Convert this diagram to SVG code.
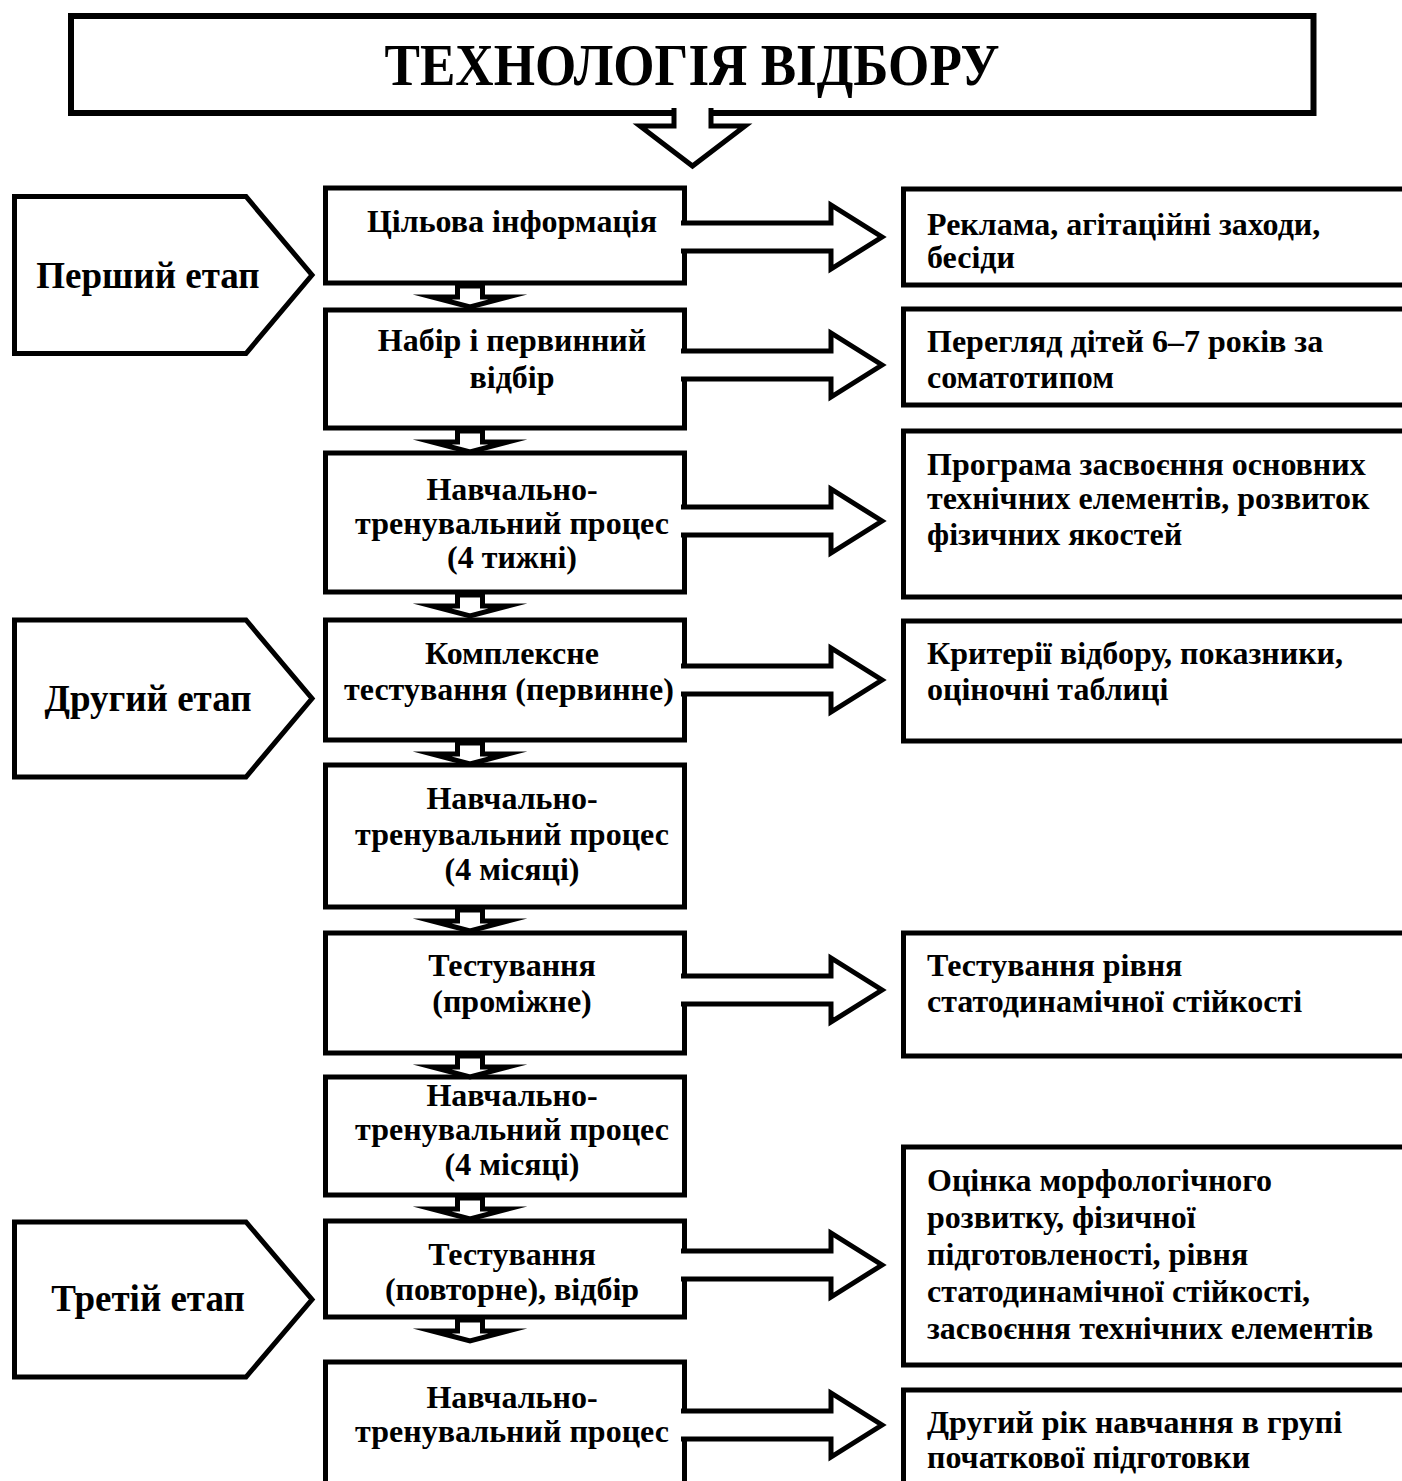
<svg xmlns="http://www.w3.org/2000/svg" xmlns:xlink="http://www.w3.org/1999/xlink" width="1402" height="1481" viewBox="0 0 1402 1481">
<style>
.box{fill:#fff;stroke:#000;stroke-width:5}
.arr{fill:#fff;stroke:#000;stroke-width:5;stroke-linejoin:miter;stroke-miterlimit:10}
.t{font-family:"Liberation Serif","Times New Roman",serif;font-weight:bold;font-size:32px;fill:#000}
.c{text-anchor:middle}
.s{font-size:37px}
.title{font-size:60px}
</style>
<defs>
<path id="ra" class="arr" d="M681,-14 H831 V-32 L882,0 L831,32 V14 H681"/>
<path id="da" class="arr" d="M457.5,3 H482.5 V14 H508 L470,24 L432,14 H457.5 Z"/>
</defs>
<rect width="1402" height="1481" fill="#fff"/>

<g id="title">
<rect x="71" y="16" width="1242.5" height="97" fill="#fff" stroke="#000" stroke-width="6"/>
<path class="arr" stroke-width="4.5" d="M674,108 V126 H640 L692.5,166 L745,126 H711 V108"/>
<text class="t c title" x="692" y="85" textLength="615" lengthAdjust="spacingAndGlyphs">ТЕХНОЛОГІЯ ВІДБОРУ</text>
</g>

<g id="stage1"><polygon class="box" points="14.5,196.5 246,196.5 312,275 246,353.5 14.5,353.5"/><text class="t c s" x="148" y="288">Перший етап</text></g>
<g id="stage2"><polygon class="box" points="14.5,620 246,620 312,698.5 246,777 14.5,777"/><text class="t c s" x="148" y="711">Другий етап</text></g>
<g id="stage3"><polygon class="box" points="14.5,1222 246,1222 312,1299.5 246,1377 14.5,1377"/><text class="t c s" x="148" y="1311">Третій етап</text></g>

<g id="b1"><rect class="box" x="325.5" y="188" width="359" height="95"/><text class="t c" x="512" y="232">Цільова інформація</text></g>
<g id="b2"><rect class="box" x="325.5" y="310" width="359" height="118"/><text class="t c" x="512" y="351">Набір і первинний</text><text class="t c" x="512" y="388">відбір</text></g>
<g id="b3"><rect class="box" x="325.5" y="453" width="359" height="139"/><text class="t c" x="512" y="500">Навчально-</text><text class="t c" x="512" y="534">тренувальний процес</text><text class="t c" x="512" y="568">(4 тижні)</text></g>
<g id="b4"><rect class="box" x="325.5" y="620" width="359" height="120"/><text class="t c" x="512" y="664">Комплексне</text><text class="t c" x="509" y="700">тестування (первинне)</text></g>
<g id="b5"><rect class="box" x="325.5" y="765" width="359" height="142"/><text class="t c" x="512" y="809">Навчально-</text><text class="t c" x="512" y="845">тренувальний процес</text><text class="t c" x="512" y="880">(4 місяці)</text></g>
<g id="b6"><rect class="box" x="325.5" y="933" width="359" height="120"/><text class="t c" x="512" y="976">Тестування</text><text class="t c" x="512" y="1012">(проміжне)</text></g>
<g id="b7"><rect class="box" x="325.5" y="1077" width="359" height="118"/><text class="t c" x="512" y="1106">Навчально-</text><text class="t c" x="512" y="1140">тренувальний процес</text><text class="t c" x="512" y="1175">(4 місяці)</text></g>
<g id="b8"><rect class="box" x="325.5" y="1221" width="359" height="96"/><text class="t c" x="512" y="1265">Тестування</text><text class="t c" x="512" y="1300">(повторне), відбір</text></g>
<g id="b9"><rect class="box" x="325.5" y="1362" width="359" height="140"/><text class="t c" x="512" y="1408">Навчально-</text><text class="t c" x="512" y="1442">тренувальний процес</text></g>

<g id="r1"><rect class="box" x="903.5" y="189" width="520" height="96"/><text class="t" x="927" y="235">Реклама, агітаційні заходи,</text><text class="t" x="927" y="268">бесіди</text></g>
<g id="r2"><rect class="box" x="903.5" y="309" width="520" height="96"/><text class="t" x="927" y="352">Перегляд дітей 6–7 років за</text><text class="t" x="927" y="388">соматотипом</text></g>
<g id="r3"><rect class="box" x="903.5" y="431" width="520" height="166"/><text class="t" x="927" y="475">Програма засвоєння основних</text><text class="t" x="927" y="509">технічних елементів, розвиток</text><text class="t" x="927" y="545">фізичних якостей</text></g>
<g id="r4"><rect class="box" x="903.5" y="621" width="520" height="120"/><text class="t" x="927" y="664">Критерії відбору, показники,</text><text class="t" x="927" y="700">оціночні таблиці</text></g>
<g id="r6"><rect class="box" x="903.5" y="933" width="520" height="123"/><text class="t" x="927" y="976">Тестування рівня</text><text class="t" x="927" y="1012">статодинамічної стійкості</text></g>
<g id="r8"><rect class="box" x="903.5" y="1147" width="520" height="218"/><text class="t" x="927" y="1191">Оцінка морфологічного</text><text class="t" x="927" y="1228">розвитку, фізичної</text><text class="t" x="927" y="1265">підготовленості, рівня</text><text class="t" x="927" y="1302">статодинамічної стійкості,</text><text class="t" x="927" y="1339">засвоєння технічних елементів</text></g>
<g id="r9"><rect class="box" x="903.5" y="1390" width="520" height="120"/><text class="t" x="927" y="1433">Другий рік навчання в групі</text><text class="t" x="927" y="1468">початкової підготовки</text></g>

<g id="connectors">
<use href="#ra" xlink:href="#ra" y="237"/>
<use href="#ra" xlink:href="#ra" y="365"/>
<use href="#ra" xlink:href="#ra" y="521"/>
<use href="#ra" xlink:href="#ra" y="680"/>
<use href="#ra" xlink:href="#ra" y="990"/>
<use href="#ra" xlink:href="#ra" y="1265"/>
<use href="#ra" xlink:href="#ra" y="1425"/>
<use href="#da" xlink:href="#da" y="283"/>
<use href="#da" xlink:href="#da" y="428"/>
<use href="#da" xlink:href="#da" y="592"/>
<use href="#da" xlink:href="#da" y="740"/>
<use href="#da" xlink:href="#da" y="907"/>
<use href="#da" xlink:href="#da" y="1053"/>
<use href="#da" xlink:href="#da" y="1195"/>
<use href="#da" xlink:href="#da" y="1317"/>
</g>
</svg>
